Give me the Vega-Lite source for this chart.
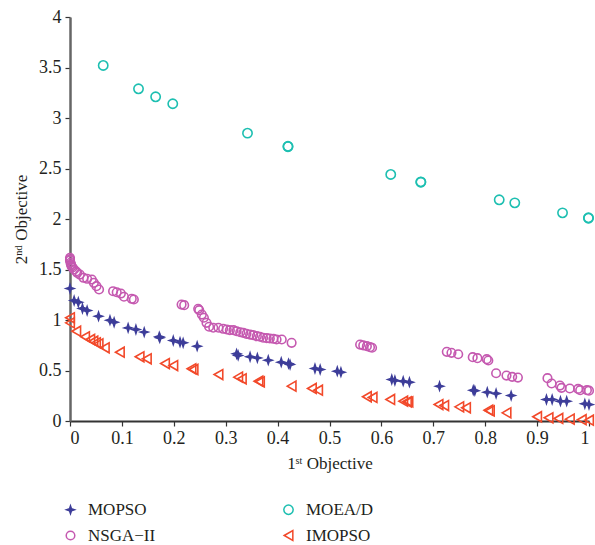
{
  "$schema": "https://vega.github.io/schema/vega-lite/v6.json",
  "width": 519,
  "height": 404,
  "autosize": {"type": "none"},
  "padding": {"left": 70, "top": 17, "right": 6, "bottom": 124},
  "config": {
    "view": {"stroke": null},
    "font": "Liberation Serif",
    "axis": {
      "grid": false,
      "labelFont": "Liberation Serif",
      "labelFontSize": 18,
      "labelColor": "#231f20",
      "titleFont": "Liberation Serif",
      "titleFontSize": 17,
      "titleFontWeight": "normal",
      "titleColor": "#231f20",
      "tickColor": "#333333",
      "tickSize": 5,
      "tickWidth": 1.2
    },
    "legend": {
      "labelFont": "Liberation Serif",
      "labelFontSize": 17,
      "labelColor": "#231f20",
      "symbolSize": 50,
      "symbolStrokeWidth": 1.5
    }
  },
  "data": {
    "values": [
      {"a": "MOEA/D", "x": 0.064, "y": 3.52},
      {"a": "MOEA/D", "x": 0.132, "y": 3.289},
      {"a": "MOEA/D", "x": 0.165, "y": 3.21},
      {"a": "MOEA/D", "x": 0.198, "y": 3.141},
      {"a": "MOEA/D", "x": 0.342, "y": 2.85},
      {"a": "MOEA/D", "x": 0.42, "y": 2.72},
      {"a": "MOEA/D", "x": 0.42, "y": 2.716},
      {"a": "MOEA/D", "x": 0.618, "y": 2.441},
      {"a": "MOEA/D", "x": 0.676, "y": 2.368},
      {"a": "MOEA/D", "x": 0.676, "y": 2.364},
      {"a": "MOEA/D", "x": 0.827, "y": 2.19},
      {"a": "MOEA/D", "x": 0.857, "y": 2.16},
      {"a": "MOEA/D", "x": 0.949, "y": 2.061},
      {"a": "MOEA/D", "x": 0.999, "y": 2.008},
      {"a": "MOEA/D", "x": 0.999, "y": 2.012},
      {"a": "NSGA−II", "x": 0.0, "y": 1.616},
      {"a": "NSGA−II", "x": 0.0, "y": 1.6},
      {"a": "NSGA−II", "x": 0.0, "y": 1.589},
      {"a": "NSGA−II", "x": 0.001, "y": 1.566},
      {"a": "NSGA−II", "x": 0.002, "y": 1.55},
      {"a": "NSGA−II", "x": 0.003, "y": 1.533},
      {"a": "NSGA−II", "x": 0.005, "y": 1.52},
      {"a": "NSGA−II", "x": 0.008, "y": 1.5},
      {"a": "NSGA−II", "x": 0.012, "y": 1.48},
      {"a": "NSGA−II", "x": 0.014, "y": 1.467},
      {"a": "NSGA−II", "x": 0.019, "y": 1.45},
      {"a": "NSGA−II", "x": 0.026, "y": 1.418},
      {"a": "NSGA−II", "x": 0.033, "y": 1.408},
      {"a": "NSGA−II", "x": 0.042, "y": 1.401},
      {"a": "NSGA−II", "x": 0.046, "y": 1.368},
      {"a": "NSGA−II", "x": 0.051, "y": 1.335},
      {"a": "NSGA−II", "x": 0.056, "y": 1.302},
      {"a": "NSGA−II", "x": 0.083, "y": 1.285},
      {"a": "NSGA−II", "x": 0.09, "y": 1.275},
      {"a": "NSGA−II", "x": 0.098, "y": 1.262},
      {"a": "NSGA−II", "x": 0.104, "y": 1.23},
      {"a": "NSGA−II", "x": 0.119, "y": 1.21},
      {"a": "NSGA−II", "x": 0.123, "y": 1.203},
      {"a": "NSGA−II", "x": 0.215, "y": 1.153},
      {"a": "NSGA−II", "x": 0.22, "y": 1.147},
      {"a": "NSGA−II", "x": 0.247, "y": 1.111},
      {"a": "NSGA−II", "x": 0.249, "y": 1.097},
      {"a": "NSGA−II", "x": 0.254, "y": 1.054},
      {"a": "NSGA−II", "x": 0.258, "y": 1.022},
      {"a": "NSGA−II", "x": 0.263, "y": 0.972},
      {"a": "NSGA−II", "x": 0.268, "y": 0.933},
      {"a": "NSGA−II", "x": 0.276, "y": 0.923},
      {"a": "NSGA−II", "x": 0.286, "y": 0.923},
      {"a": "NSGA−II", "x": 0.295, "y": 0.913},
      {"a": "NSGA−II", "x": 0.302, "y": 0.906},
      {"a": "NSGA−II", "x": 0.308, "y": 0.899},
      {"a": "NSGA−II", "x": 0.315, "y": 0.899},
      {"a": "NSGA−II", "x": 0.321, "y": 0.889},
      {"a": "NSGA−II", "x": 0.328, "y": 0.879},
      {"a": "NSGA−II", "x": 0.334, "y": 0.873},
      {"a": "NSGA−II", "x": 0.34, "y": 0.863},
      {"a": "NSGA−II", "x": 0.347, "y": 0.856},
      {"a": "NSGA−II", "x": 0.353, "y": 0.85},
      {"a": "NSGA−II", "x": 0.36, "y": 0.84},
      {"a": "NSGA−II", "x": 0.366, "y": 0.834},
      {"a": "NSGA−II", "x": 0.372, "y": 0.824},
      {"a": "NSGA−II", "x": 0.379, "y": 0.82},
      {"a": "NSGA−II", "x": 0.385, "y": 0.817},
      {"a": "NSGA−II", "x": 0.392, "y": 0.814},
      {"a": "NSGA−II", "x": 0.398, "y": 0.807},
      {"a": "NSGA−II", "x": 0.408, "y": 0.807},
      {"a": "NSGA−II", "x": 0.427, "y": 0.774},
      {"a": "NSGA−II", "x": 0.559, "y": 0.757},
      {"a": "NSGA−II", "x": 0.565, "y": 0.748},
      {"a": "NSGA−II", "x": 0.572, "y": 0.741},
      {"a": "NSGA−II", "x": 0.578, "y": 0.731},
      {"a": "NSGA−II", "x": 0.582, "y": 0.725},
      {"a": "NSGA−II", "x": 0.726, "y": 0.685},
      {"a": "NSGA−II", "x": 0.735, "y": 0.675},
      {"a": "NSGA−II", "x": 0.748, "y": 0.661},
      {"a": "NSGA−II", "x": 0.776, "y": 0.632},
      {"a": "NSGA−II", "x": 0.785, "y": 0.622},
      {"a": "NSGA−II", "x": 0.803, "y": 0.612},
      {"a": "NSGA−II", "x": 0.806, "y": 0.599},
      {"a": "NSGA−II", "x": 0.821, "y": 0.473},
      {"a": "NSGA−II", "x": 0.841, "y": 0.45},
      {"a": "NSGA−II", "x": 0.852, "y": 0.437},
      {"a": "NSGA−II", "x": 0.863, "y": 0.43},
      {"a": "NSGA−II", "x": 0.92, "y": 0.424},
      {"a": "NSGA−II", "x": 0.928, "y": 0.371},
      {"a": "NSGA−II", "x": 0.944, "y": 0.351},
      {"a": "NSGA−II", "x": 0.947, "y": 0.328},
      {"a": "NSGA−II", "x": 0.963, "y": 0.322},
      {"a": "NSGA−II", "x": 0.979, "y": 0.318},
      {"a": "NSGA−II", "x": 0.983, "y": 0.305},
      {"a": "NSGA−II", "x": 0.996, "y": 0.305},
      {"a": "NSGA−II", "x": 1.0, "y": 0.3},
      {"a": "MOPSO", "x": 0.0, "y": 1.312},
      {"a": "MOPSO", "x": 0.008, "y": 1.193},
      {"a": "MOPSO", "x": 0.016, "y": 1.176},
      {"a": "MOPSO", "x": 0.024, "y": 1.114},
      {"a": "MOPSO", "x": 0.033, "y": 1.094},
      {"a": "MOPSO", "x": 0.055, "y": 1.038},
      {"a": "MOPSO", "x": 0.077, "y": 0.998},
      {"a": "MOPSO", "x": 0.085, "y": 0.978},
      {"a": "MOPSO", "x": 0.112, "y": 0.922},
      {"a": "MOPSO", "x": 0.127, "y": 0.906},
      {"a": "MOPSO", "x": 0.143, "y": 0.88},
      {"a": "MOPSO", "x": 0.172, "y": 0.834},
      {"a": "MOPSO", "x": 0.173, "y": 0.824},
      {"a": "MOPSO", "x": 0.199, "y": 0.797},
      {"a": "MOPSO", "x": 0.212, "y": 0.78},
      {"a": "MOPSO", "x": 0.218, "y": 0.774},
      {"a": "MOPSO", "x": 0.245, "y": 0.741},
      {"a": "MOPSO", "x": 0.321, "y": 0.665},
      {"a": "MOPSO", "x": 0.324, "y": 0.649},
      {"a": "MOPSO", "x": 0.347, "y": 0.636},
      {"a": "MOPSO", "x": 0.361, "y": 0.625},
      {"a": "MOPSO", "x": 0.382, "y": 0.602},
      {"a": "MOPSO", "x": 0.407, "y": 0.582},
      {"a": "MOPSO", "x": 0.421, "y": 0.569},
      {"a": "MOPSO", "x": 0.424, "y": 0.559},
      {"a": "MOPSO", "x": 0.472, "y": 0.52},
      {"a": "MOPSO", "x": 0.482, "y": 0.51},
      {"a": "MOPSO", "x": 0.515, "y": 0.493},
      {"a": "MOPSO", "x": 0.522, "y": 0.483},
      {"a": "MOPSO", "x": 0.62, "y": 0.411},
      {"a": "MOPSO", "x": 0.626, "y": 0.401},
      {"a": "MOPSO", "x": 0.642, "y": 0.394},
      {"a": "MOPSO", "x": 0.654, "y": 0.384},
      {"a": "MOPSO", "x": 0.712, "y": 0.345},
      {"a": "MOPSO", "x": 0.777, "y": 0.305},
      {"a": "MOPSO", "x": 0.78, "y": 0.3},
      {"a": "MOPSO", "x": 0.804, "y": 0.285},
      {"a": "MOPSO", "x": 0.821, "y": 0.272},
      {"a": "MOPSO", "x": 0.85, "y": 0.252},
      {"a": "MOPSO", "x": 0.918, "y": 0.213},
      {"a": "MOPSO", "x": 0.929, "y": 0.213},
      {"a": "MOPSO", "x": 0.945, "y": 0.196},
      {"a": "MOPSO", "x": 0.957, "y": 0.196},
      {"a": "MOPSO", "x": 0.992, "y": 0.17},
      {"a": "MOPSO", "x": 1.0, "y": 0.163},
      {"a": "IMOPSO", "x": 0.0, "y": 1.022},
      {"a": "IMOPSO", "x": 0.0, "y": 0.972},
      {"a": "IMOPSO", "x": 0.012, "y": 0.889},
      {"a": "IMOPSO", "x": 0.029, "y": 0.834},
      {"a": "IMOPSO", "x": 0.039, "y": 0.807},
      {"a": "IMOPSO", "x": 0.045, "y": 0.79},
      {"a": "IMOPSO", "x": 0.05, "y": 0.774},
      {"a": "IMOPSO", "x": 0.055, "y": 0.764},
      {"a": "IMOPSO", "x": 0.067, "y": 0.725},
      {"a": "IMOPSO", "x": 0.096, "y": 0.681},
      {"a": "IMOPSO", "x": 0.134, "y": 0.636},
      {"a": "IMOPSO", "x": 0.148, "y": 0.616},
      {"a": "IMOPSO", "x": 0.183, "y": 0.569},
      {"a": "IMOPSO", "x": 0.199, "y": 0.549},
      {"a": "IMOPSO", "x": 0.234, "y": 0.517},
      {"a": "IMOPSO", "x": 0.238, "y": 0.51},
      {"a": "IMOPSO", "x": 0.286, "y": 0.46},
      {"a": "IMOPSO", "x": 0.324, "y": 0.434},
      {"a": "IMOPSO", "x": 0.331, "y": 0.418},
      {"a": "IMOPSO", "x": 0.363, "y": 0.394},
      {"a": "IMOPSO", "x": 0.366, "y": 0.388},
      {"a": "IMOPSO", "x": 0.427, "y": 0.345},
      {"a": "IMOPSO", "x": 0.466, "y": 0.322},
      {"a": "IMOPSO", "x": 0.478, "y": 0.305},
      {"a": "IMOPSO", "x": 0.572, "y": 0.24},
      {"a": "IMOPSO", "x": 0.583, "y": 0.233},
      {"a": "IMOPSO", "x": 0.617, "y": 0.213},
      {"a": "IMOPSO", "x": 0.642, "y": 0.196},
      {"a": "IMOPSO", "x": 0.649, "y": 0.19},
      {"a": "IMOPSO", "x": 0.652, "y": 0.19},
      {"a": "IMOPSO", "x": 0.71, "y": 0.163},
      {"a": "IMOPSO", "x": 0.721, "y": 0.153},
      {"a": "IMOPSO", "x": 0.75, "y": 0.14},
      {"a": "IMOPSO", "x": 0.763, "y": 0.131},
      {"a": "IMOPSO", "x": 0.806, "y": 0.107},
      {"a": "IMOPSO", "x": 0.809, "y": 0.1},
      {"a": "IMOPSO", "x": 0.841, "y": 0.081},
      {"a": "IMOPSO", "x": 0.9, "y": 0.042},
      {"a": "IMOPSO", "x": 0.922, "y": 0.032},
      {"a": "IMOPSO", "x": 0.941, "y": 0.025},
      {"a": "IMOPSO", "x": 0.963, "y": 0.018},
      {"a": "IMOPSO", "x": 0.986, "y": 0.013},
      {"a": "IMOPSO", "x": 1.0, "y": 0.008}
    ]
  },
  "mark": {"type": "point", "strokeWidth": 1.6, "opacity": 1, "filled": false, "clip": false},
  "encoding": {
    "x": {
      "field": "x",
      "type": "quantitative",
      "scale": {"domain": [0, 1], "nice": false, "zero": false},
      "axis": {
        "title": "1ˢᵗ Objective",
        "values": [0, 0.1, 0.2, 0.3, 0.4, 0.5, 0.6, 0.7, 0.8, 0.9, 1],
        "format": "~g",
        "domainColor": "#333333",
        "domainWidth": 2,
        "labelPadding": 3,
        "titlePadding": 8
      }
    },
    "y": {
      "field": "y",
      "type": "quantitative",
      "scale": {"domain": [0, 4], "nice": false},
      "axis": {
        "title": "2ⁿᵈ Objective",
        "values": [0, 0.5, 1, 1.5, 2, 2.5, 3, 3.5, 4],
        "format": "~g",
        "domainColor": "#666666",
        "domainWidth": 2.5,
        "labelPadding": 4,
        "titlePadding": 8
      }
    },
    "color": {
      "field": "a",
      "type": "nominal",
      "scale": {
        "domain": ["MOPSO", "NSGA−II", "MOEA/D", "IMOPSO"],
        "range": ["#3d3d99", "#c559b0", "#1dbfb1", "#f2492a"]
      },
      "legend": {"title": null, "orient": "none", "legendX": -8, "legendY": 484, "direction": "vertical", "columns": 2, "columnPadding": 124, "rowPadding": 8, "labelOffset": 9}
    },
    "fill": {
      "field": "a",
      "type": "nominal",
      "scale": {
        "domain": ["MOPSO", "NSGA−II", "MOEA/D", "IMOPSO"],
        "range": ["#3d3d99", "transparent", "transparent", "transparent"]
      },
      "legend": {"title": null, "orient": "none", "legendX": -8, "legendY": 484, "direction": "vertical", "columns": 2, "columnPadding": 124, "rowPadding": 8, "labelOffset": 9}
    },
    "shape": {
      "field": "a",
      "type": "nominal",
      "scale": {
        "domain": ["MOPSO", "NSGA−II", "MOEA/D", "IMOPSO"],
        "range": ["M0,-1L0.25,-0.25L1,0L0.25,0.25L0,1L-0.25,0.25L-1,0L-0.25,-0.25Z", "circle", "circle", "triangle-left"]
      },
      "legend": {"title": null, "orient": "none", "legendX": -8, "legendY": 484, "direction": "vertical", "columns": 2, "columnPadding": 124, "rowPadding": 8, "labelOffset": 9}
    },
    "size": {
      "field": "a",
      "type": "nominal",
      "scale": {
        "domain": ["MOPSO", "NSGA−II", "MOEA/D", "IMOPSO"],
        "range": [60, 100, 75, 115]
      },
      "legend": null
    }
  }
}
